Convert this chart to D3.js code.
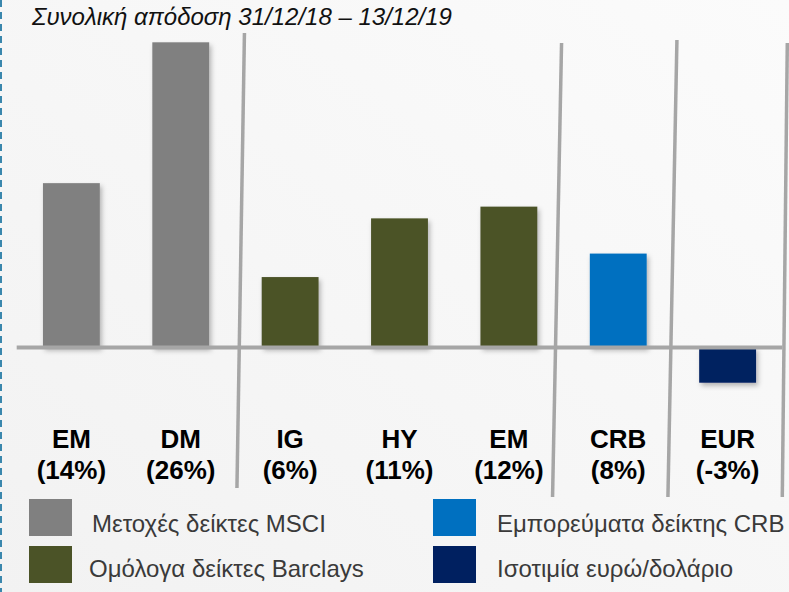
<!DOCTYPE html>
<html><head><meta charset="utf-8">
<script src="https://cdn.jsdelivr.net/npm/d3@7"></script>
<style>html,body{margin:0;padding:0;background:#f6f6f6;}svg{display:block;}</style>
</head><body>
<script>
const categories = ["EM","DM","IG","HY","EM","CRB","EUR"];
const values = [14, 26, 6, 11, 12, 8, -3];
const valueLabels = ["(14%)","(26%)","(6%)","(11%)","(12%)","(8%)","(-3%)"];
const groups = ["msci","msci","barclays","barclays","barclays","crb","eur"];
const groupKeys = ["msci","barclays","crb","eur"];
const groupNames = ["Μετοχές δείκτες MSCI","Ομόλογα δείκτες Barclays","Εμπορεύματα δείκτης CRB","Ισοτιμία ευρώ/δολάριο"];
const groupColors = ["#808080","#4b5327","#0070c0","#002060"];
const title = "Συνολική απόδοση 31/12/18 – 13/12/19";

const W = 789, H = 592;
const svg = d3.select("body").append("svg").attr("width", W).attr("height", H);

const defs = svg.append("defs");
const grad = defs.append("linearGradient").attr("id","bg").attr("x1","0").attr("y1","1").attr("x2","1").attr("y2","0");
grad.append("stop").attr("offset","0").attr("stop-color","#f2f2f2");
grad.append("stop").attr("offset","1").attr("stop-color","#fbfbfb");
const f = defs.append("filter").attr("id","sh").attr("x","-20%").attr("y","-20%").attr("width","150%").attr("height","150%");
f.append("feDropShadow").attr("dx",2).attr("dy",3).attr("stdDeviation",2.5).attr("flood-color","#000").attr("flood-opacity",0.28);

svg.append("rect").attr("width",W).attr("height",H).attr("fill","url(#bg)");
svg.append("line").attr("x1",1).attr("x2",1).attr("y1",0).attr("y2",H)
  .attr("stroke","#3a87ad").attr("stroke-width",2).attr("stroke-dasharray","7,5");

const color = d3.scaleOrdinal().domain(groupKeys).range(groupColors);
const x = d3.scaleBand().domain(d3.range(categories.length)).range([16.7, 782.3]).paddingInner(0.48).paddingOuter(0.24);
const y = d3.scaleLinear().domain([-3, 26]).range([382.7, 42.3]);

// title
svg.append("text").attr("x",32).attr("y",25).text(title)
  .attr("font-family","Liberation Sans, Arial, sans-serif").attr("font-style","italic")
  .attr("font-size",24).attr("fill","#111");

// bars
svg.append("g").selectAll("rect").data(values).join("rect")
  .attr("x",(d,i)=>x(i)).attr("width",x.bandwidth())
  .attr("y",d=>y(Math.max(0,d))).attr("height",d=>Math.abs(y(d)-y(0)))
  .attr("fill",(d,i)=>color(groups[i])).attr("filter","url(#sh)");

// baseline
svg.append("line").attr("x1",x.range()[0]).attr("x2",x.range()[1]).attr("y1",y(0)).attr("y2",y(0))
  .attr("stroke","#a6a6a6").attr("stroke-width",4);

// separators (between groups)
const step = x.step();
const seps = [
  {b: x(2) - (step - x.bandwidth())/2, dt: 9, db: 1.5, top: 33, bot: 488},
  {b: x(5) - (step - x.bandwidth())/2, dt: -2, db: -11, top: 43, bot: 497},
  {b: x(6) - (step - x.bandwidth())/2, dt: 4, db: -5, top: 40, bot: 497},
  {b: x(6) + x.bandwidth() + (step - x.bandwidth())/2, dt: 5, db: 0, top: 43, bot: 497}
];
svg.append("g").selectAll("line").data(seps).join("line")
  .attr("x1",d=>d.b+d.dt).attr("y1",d=>d.top).attr("x2",d=>d.b+d.db).attr("y2",d=>d.bot)
  .attr("stroke","#a6a6a6").attr("stroke-width",3.5);

// category labels
const lab = svg.append("g").attr("font-family","Liberation Sans, Arial, sans-serif")
  .attr("font-weight","bold").attr("font-size",26).attr("fill","#000").attr("text-anchor","middle");
lab.selectAll("text.c").data(categories).join("text").attr("class","c")
  .attr("x",(d,i)=>x(i)+x.bandwidth()/2).attr("y",448).text(d=>d);
lab.selectAll("text.v").data(valueLabels).join("text").attr("class","v")
  .attr("x",(d,i)=>x(i)+x.bandwidth()/2).attr("y",479).text(d=>d);

// legend
const legPos = [[29,499],[29,546],[433,499],[433,546]];
const leg = svg.append("g").selectAll("g").data(groupKeys).join("g")
  .attr("transform",(d,i)=>`translate(${legPos[i][0]},${legPos[i][1]})`);
leg.append("rect").attr("width",43).attr("height",37).attr("fill",d=>color(d));
leg.append("text").attr("x",(d,i)=> [63,60,64,64][i]).attr("y",(d,i)=> i%2 ? 31 : 33).text((d,i)=>groupNames[i])
  .attr("font-family","Liberation Sans, Arial, sans-serif").attr("font-size",24).attr("fill","#3a3a3a");
</script>
</body></html>
